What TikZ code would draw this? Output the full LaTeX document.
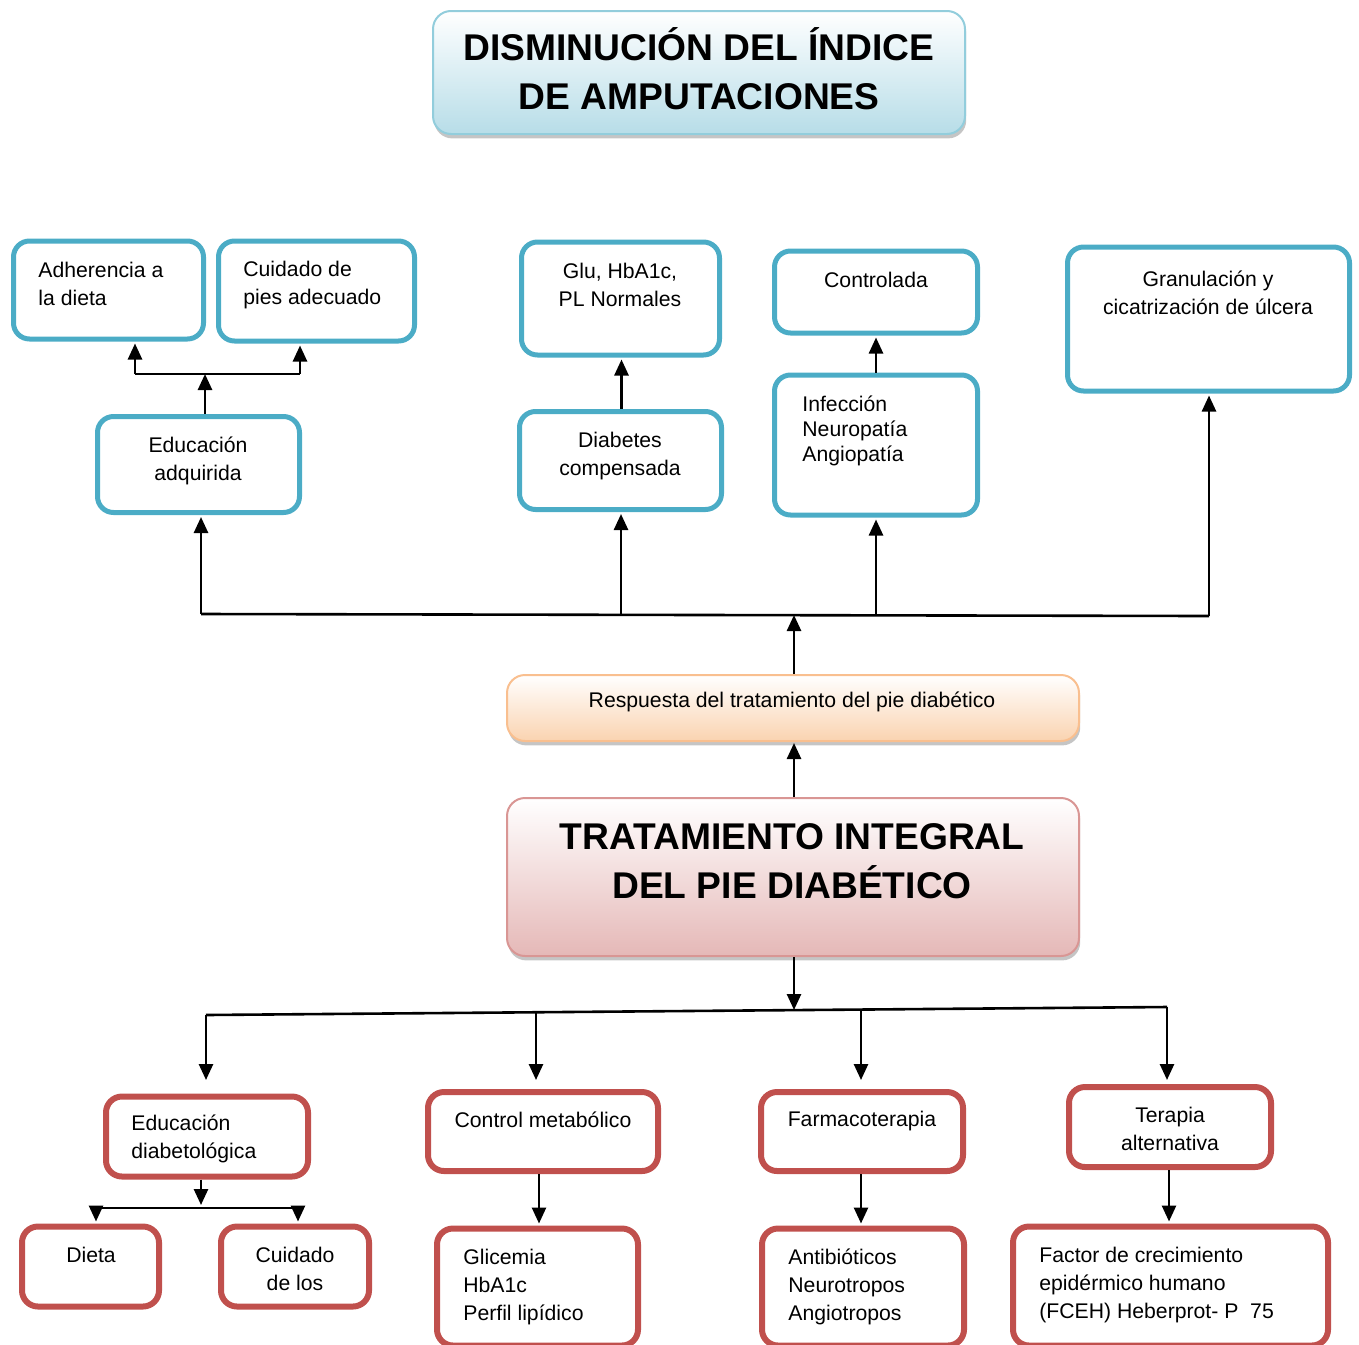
\documentclass[tikz,border=0pt]{standalone}
\usepackage{fontspec}
\setmainfont{Liberation Sans}
\usetikzlibrary{arrows.meta,calc,shadows}
\definecolor{boxblue}{HTML}{4BACC6}
\definecolor{boxred}{HTML}{C0504D}
\definecolor{titlefill}{HTML}{B7DDE8}
\definecolor{titleedge}{HTML}{92CDDC}
\definecolor{respfill}{HTML}{FAD3B0}
\definecolor{respedge}{HTML}{F9BF8F}
\definecolor{tratfill}{HTML}{E5B8B7}
\definecolor{tratedge}{HTML}{D99694}

\begin{document}
\begin{tikzpicture}[x=0.5pt,y=-0.5pt,
    bluebox/.style={draw=boxblue, line width=2.5pt, rounded corners=8pt},
    redbox/.style={draw=boxred, line width=3pt, rounded corners=8pt},
    bigbox/.style={line width=1pt, rounded corners=9pt, drop shadow={shadow xshift=0.6pt, shadow yshift=-2.2pt, fill=black!45}},
    txt/.style={font=\fontsize{10.6}{14}\selectfont, align=left, inner sep=0pt},
    txtc/.style={font=\fontsize{10.6}{14}\selectfont, align=center, inner sep=0pt},
    head/.style={font=\fontsize{18.6}{24.5}\selectfont\bfseries, align=center, inner sep=0pt},
    arr/.style={-{Triangle[width=7pt,length=8pt]}, line width=1.3pt},
    bus/.style={line width=1.3pt}
  ]
    \useasboundingbox (0,0) rectangle (1359,1344);
    \clip (0,0) rectangle (1359,1344);
    % titulo
    \node[bigbox, draw=titleedge, top color=white, bottom color=titlefill, minimum width=266pt, minimum height=61.5pt] (meta) at (699,72.5) {};
    \node[head] (meta-t) at (699,69) {DISMINUCIÓN DEL ÍNDICE\\DE AMPUTACIONES};
    % resultados
    \node[bluebox, minimum width=95pt, minimum height=49pt] (adh) at (108.5,290) {};
    \node[txt, anchor=west] (adh-t) at (38,284) {Adherencia a\\la dieta};
    \node[bluebox, minimum width=98pt, minimum height=50pt] (cui) at (316.5,291) {};
    \node[txt, anchor=west] (cui-t) at (243,285) {Cuidado de\\pies adecuado};
    \node[bluebox, minimum width=101pt, minimum height=48pt] (edu) at (198.5,464.5) {};
    \node[txtc] (edu-t) at (198,461) {Educación\\adquirida};
    \node[bluebox, minimum width=99pt, minimum height=56.5pt] (glu) at (620.5,298.5) {};
    \node[txtc] (glu-t) at (620,285) {Glu, HbA1c,\\PL Normales};
    \node[bluebox, minimum width=101pt, minimum height=49pt] (dia) at (620.5,460.5) {};
    \node[txtc] (dia-t) at (620,456.5) {Diabetes\\compensada};
    \node[bluebox, minimum width=101.5pt, minimum height=41pt] (con) at (876,292) {};
    \node[txtc] (con-t) at (876,280) {Controlada};
    \node[bluebox, minimum width=101.5pt, minimum height=70pt] (inf) at (876,445) {};
    \node[txt, anchor=west, font=\fontsize{10.6}{12.5}\selectfont] (inf-t) at (802,431) {Infección\\Neuropatía\\Angiopatía};
    \node[bluebox, minimum width=141pt, minimum height=72pt] (gra) at (1208.5,319) {};
    \node[txtc] (gra-t) at (1208,292.5) {Granulación y\\cicatrización de úlcera};
    % centro
    \node[bigbox, draw=respedge, top color=white, bottom color=respfill, minimum width=286pt, minimum height=33pt] (res) at (793,708) {};
    \node[txtc] (res-t) at (792,702) {Respuesta del tratamiento del pie diabético};
    \node[bigbox, draw=tratedge, top color=white, bottom color=tratfill, minimum width=286pt, minimum height=79pt] (tra) at (793,877) {};
    \node[head] (tra-t) at (792,861) {TRATAMIENTO INTEGRAL\\DEL PIE DIABÉTICO};
    % componentes
    \node[redbox, minimum width=101pt, minimum height=40pt] (edd) at (207,1136.5) {};
    \node[txt, anchor=west] (edd-t) at (131,1139) {Educación\\diabetológica};
    \node[redbox, minimum width=115pt, minimum height=39.5pt] (cme) at (543,1131.5) {};
    \node[txtc] (cme-t) at (543,1120) {Control metabólico};
    \node[redbox, minimum width=101pt, minimum height=39.5pt] (far) at (862,1131.5) {};
    \node[txtc] (far-t) at (862,1121) {Farmacoterapia};
    \node[redbox, minimum width=101pt, minimum height=40pt] (ter) at (1170,1127) {};
    \node[txtc] (ter-t) at (1170,1129) {Terapia\\alternativa};
    \node[redbox, minimum width=68.5pt, minimum height=40pt] (die) at (90.5,1266.5) {};
    \node[txtc] (die-t) at (91,1255) {Dieta};
    \node[redbox, minimum width=74pt, minimum height=40pt] (cdl) at (295,1266.5) {};
    \node[txtc] (cdl-t) at (295,1269) {Cuidado\\de los};
    \node[redbox, minimum width=100.5pt, minimum height=58.5pt] (gli) at (537.5,1287) {};
    \node[txt, anchor=west] (gli-t) at (463,1287) {Glicemia\\HbA1c\\Perfil lipídico};
    \node[redbox, minimum width=101pt, minimum height=58.5pt] (ant) at (863,1287) {};
    \node[txt, anchor=west] (ant-t) at (788,1287) {Antibióticos\\Neurotropos\\Angiotropos};
    \node[redbox, minimum width=157.5pt, minimum height=59.5pt] (fac) at (1170.5,1286) {};
    \node[txt, anchor=west] (fac-t) at (1039,1285) {Factor de crecimiento\\epidérmico humano\\(FCEH) Heberprot- P\ \ 75};
    % conectores arriba
    \coordinate (ja) at (205,374);
    \coordinate (jl) at (135,374);
    \coordinate (jr) at (300,374);
    \draw[arr] (ja |- edu.north) -- (ja);
    \draw[bus] (jl) -- (jr);
    \draw[arr] (jl) -- ([yshift=-1pt]jl |- adh.south);
    \draw[arr] (jr) -- ([yshift=-1pt]jr |- cui.south);
    \draw[arr] ([xshift=0.5pt]dia.north) -- ([xshift=0.5pt,yshift=-1pt]glu.south);
    \draw[arr] (inf.north) -- ([yshift=-1pt]con.south);
    \coordinate (b1) at (201,614);
    \coordinate (b2) at (621,615);
    \coordinate (b3) at (794,615);
    \coordinate (b4) at (876,615.5);
    \coordinate (b5) at (1209,616);
    \draw[bus] (b1) -- (b5);
    \draw[arr] (b1) -- ([yshift=-1pt]b1 |- edu.south);
    \draw[arr] (b2) -- ([yshift=-1pt]b2 |- dia.south);
    \draw[arr] (b4) -- ([yshift=-1pt]b4 |- inf.south);
    \draw[arr] (b5) -- ([yshift=-1pt]b5 |- gra.south);
    \draw[arr] ([xshift=0.5pt]res.north) -- (b3);
    \draw[arr] ([xshift=0.5pt]tra.north) -- ([xshift=0.5pt,yshift=-0.5pt]res.south);
    % conectores abajo
    \coordinate (c0) at (794,1010);
    \coordinate (c1) at (206,1015);
    \coordinate (c2) at (536,1012.3);
    \coordinate (c3) at (861,1009.5);
    \coordinate (c4) at (1167,1007);
    \draw[arr] ([xshift=0.5pt]tra.south) -- (c0);
    \draw[bus] (c1) -- (c4);
    \draw[arr] (c1) -- (206,1080);
    \draw[arr] (c2) -- (536,1080);
    \draw[arr] (c3) -- (861,1080);
    \draw[arr] (c4) -- (1167,1080);
    \coordinate (d0) at (201,1205);
    \coordinate (dl) at (96,1208);
    \coordinate (dr) at (298,1208);
    \draw[arr] (d0 |- edd.south) -- (d0);
    \draw[bus] (dl) -- (dr);
    \draw[arr] (dl) -- ([yshift=1pt]dl |- die.north);
    \draw[arr] (dr) -- ([yshift=1pt]dr |- cdl.north);
    \coordinate (e1) at (539,0);
    \coordinate (e2) at (861,0);
    \coordinate (e3) at (1169,0);
    \draw[arr] (e1 |- cme.south) -- ([yshift=1pt]e1 |- gli.north);
    \draw[arr] (e2 |- far.south) -- ([yshift=1pt]e2 |- ant.north);
    \draw[arr] (e3 |- ter.south) -- ([yshift=1pt]e3 |- fac.north);
\end{tikzpicture}
\end{document}
